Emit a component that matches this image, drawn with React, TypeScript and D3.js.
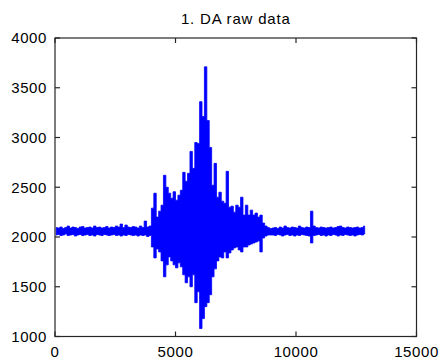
import { useMemo } from "react"
import * as d3 from "d3"

// signal envelope, one max/min pair per 100-sample bin
const binSize = 100

const upper = [
  2095, 2090, 2100, 2085, 2095, 2110, 2090, 2100, 2095, 2085,
  2100, 2105, 2090, 2095, 2100, 2090, 2110, 2095, 2100, 2090,
  2095, 2105, 2090, 2100, 2095, 2110, 2100, 2130, 2095, 2120,
  2100, 2095, 2105, 2100, 2090, 2110, 2095, 2160, 2100, 2110,
  2290, 2440, 2200, 2260, 2320, 2620, 2500, 2440, 2390, 2455,
  2370, 2420, 2470, 2650, 2560, 2640, 2860, 2690, 2950, 2940,
  3360, 3210, 3710, 3170, 2900, 2520, 2740, 2400, 2450, 2360,
  2340, 2660, 2300, 2310, 2250, 2320, 2300, 2400, 2220, 2320,
  2220, 2270, 2220, 2240, 2200, 2220, 2140, 2110, 2095, 2085,
  2090, 2095, 2085, 2100, 2090, 2110, 2095, 2090, 2100, 2095,
  2090, 2110, 2095, 2090, 2100, 2095, 2260, 2110, 2095, 2090,
  2100, 2095, 2090, 2095, 2100, 2090, 2095, 2105, 2110, 2095,
  2090, 2100, 2095, 2090, 2095, 2100, 2090, 2095, 2110,
]

const lower = [
  2020, 2025, 2015, 2020, 2030, 2015, 2020, 2025, 2010, 2020,
  2025, 2015, 2020, 2025, 2015, 2020, 2010, 2025, 2020, 2015,
  2025, 2020, 2015, 2020, 2025, 2015, 2020, 2010, 2020, 2015,
  2025, 2020, 2015, 2020, 2010, 2020, 2015, 2020, 2005, 2015,
  1900, 1790, 1880, 1850, 1760, 1600, 1720, 1800, 1760, 1720,
  1690, 1740, 1700, 1620, 1540, 1600, 1500, 1620, 1340, 1450,
  1080, 1180, 1300, 1340, 1420, 1600, 1680, 1760, 1800, 1790,
  1850, 1790, 1840, 1870, 1890, 1900, 1870, 1850, 1900, 1900,
  1920, 1930, 1940, 1950, 1960, 1850, 1990, 2010, 2020, 2020,
  2020, 2015, 2025, 2020, 2010, 2020, 2025, 2015, 2020, 2010,
  2020, 2015, 2025, 2020, 2015, 2010, 1940, 2015, 2020, 2025,
  2015, 2020, 2010, 2020, 2015, 2025, 2020, 2010, 2020, 2015,
  2025, 2020, 2015, 2020, 2010, 2020, 2025, 2020, 2030,
]

const xTicks = [0, 5000, 10000, 15000]
const yTicks = [1000, 1500, 2000, 2500, 3000, 3500, 4000]
const title = "1. DA raw data"

export default function App() {
  const width = 440
  const height = 362
  const left = 55
  const right = 416.5
  const top = 38
  const bottom = 336.5

  const x = d3.scaleLinear().domain([0, 15000]).range([left, right])
  const y = d3.scaleLinear().domain([1000, 4000]).range([bottom, top])

  const bins = upper.map((hi, i) => ({ s: i * binSize + binSize / 2, hi, lo: lower[i] }))

  const envelope = useMemo(
    () =>
      d3
        .area<{ s: number; hi: number; lo: number }>()
        .curve(d3.curveStep)
        .x((d) => x(d.s))
        .y0((d) => y(d.lo))
        .y1((d) => y(d.hi))(bins),
    []
  )

  const tickLen = 5
  const axisColor = "#262626"
  const font = "'Liberation Sans', Arial, sans-serif"

  return (
    <svg
      width={width}
      height={height}
      style={{ position: "fixed", left: 0, top: 0, background: "#fff" }}
      fontFamily={font}
    >
      <rect width={width} height={height} fill="#fff" />
      <path d={envelope} fill="#0000ff" stroke="#0000ff" strokeWidth={0.8} strokeLinejoin="miter" />

      {/* frame */}
      <rect
        x={left}
        y={top}
        width={right - left}
        height={bottom - top}
        fill="none"
        stroke={axisColor}
        strokeWidth={1.2}
      />

      {/* x ticks, inward on bottom and top */}
      {xTicks.map((t) => (
        <g key={"x" + t}>
          <line x1={x(t)} x2={x(t)} y1={bottom} y2={bottom - tickLen} stroke={axisColor} strokeWidth={1.2} />
          <line x1={x(t)} x2={x(t)} y1={top} y2={top + tickLen} stroke={axisColor} strokeWidth={1.2} />
          <text x={x(t)} y={357} textAnchor="middle" fontSize={15} letterSpacing={0.6} fill="#000">
            {t}
          </text>
        </g>
      ))}

      {/* y ticks, inward on left and right */}
      {yTicks.map((t) => (
        <g key={"y" + t}>
          <line x1={left} x2={left + tickLen} y1={y(t)} y2={y(t)} stroke={axisColor} strokeWidth={1.2} />
          <line x1={right} x2={right - tickLen} y1={y(t)} y2={y(t)} stroke={axisColor} strokeWidth={1.2} />
          <text x={47} y={y(t)} dy="0.36em" textAnchor="end" fontSize={15} letterSpacing={0.6} fill="#000">
            {t}
          </text>
        </g>
      ))}

      <text x={(left + right) / 2} y={24} textAnchor="middle" fontSize={15} letterSpacing={0.8} fill="#000">
        {title}
      </text>
    </svg>
  )
}
